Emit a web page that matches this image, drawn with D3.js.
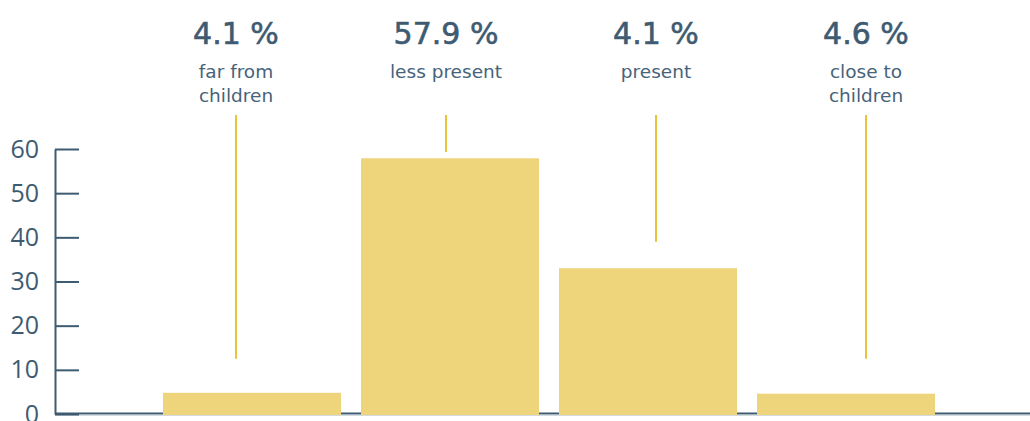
<!DOCTYPE html>
<html lang="en">
<head>
    <meta charset="UTF-8">
    <title>Bars</title>
    <script src="https://d3js.org/d3.v7.min.js"></script>
    <style>
        body { margin: 0; background: #fff; }
    </style>
</head>
<body>
    <script>
        // data
        var categories = ["far from children", "less present", "present", "close to children"];
        var values = [4.8, 57.9, 33, 4.6];
        var percentLabels = ["4.1 %", "57.9 %", "4.1 %", "4.6 %"];
        var labelLines = [["far from", "children"], ["less present"], ["present"], ["close to", "children"]];
        var leaderEnd = [12.5, 59.3, 39, 12.5];
        var yTicks = [0, 10, 20, 30, 40, 50, 60];

        var width = 1030, height = 421;
        var axisColor = "#3e5b71";
        var barColor = "#eed47a";
        var leaderColor = "#e8c43a";

        var svg = d3.select("body").append("svg")
            .attr("width", width)
            .attr("height", height);

        var y = d3.scaleLinear().domain([0, 60]).range([414, 149]);

        var x = d3.scaleBand()
            .domain(categories)
            .range([153, 945])
            .paddingInner(0.101)
            .paddingOuter(0.0505);

        // label columns are spaced a bit wider than the bars
        var xl = d3.scaleBand()
            .domain(categories)
            .range([131, 971]);

        // baseline
        svg.append("line")
            .attr("x1", 55).attr("x2", width)
            .attr("y1", 413.5).attr("y2", 413.5)
            .attr("stroke", axisColor).attr("stroke-width", 2);
        svg.append("line")
            .attr("x1", 55).attr("x2", width)
            .attr("y1", 415).attr("y2", 415)
            .attr("stroke", "#a8b7c2").attr("stroke-width", 1);

        // y axis
        var yAxis = svg.append("g")
            .attr("transform", "translate(55,0)")
            .call(d3.axisLeft(y).tickValues(yTicks).tickSize(-24).tickSizeOuter(0).tickPadding(16));
        yAxis.selectAll("path, line")
            .attr("stroke", axisColor)
            .attr("stroke-width", 2);
        yAxis.selectAll("text")
            .attr("fill", axisColor)
            .attr("font-family", "'Open Sans', sans-serif")
            .attr("font-size", "25px");

        // bars
        svg.selectAll("rect.bar")
            .data(values)
            .enter().append("rect")
            .attr("class", "bar")
            .attr("x", function (d, i) { return x(categories[i]); })
            .attr("y", function (d) { return y(d); })
            .attr("width", x.bandwidth())
            .attr("height", function (d) { return y(0) + 1 - y(d); })
            .attr("fill", barColor);

        // leader lines
        svg.selectAll("line.leader")
            .data(leaderEnd)
            .enter().append("line")
            .attr("class", "leader")
            .attr("x1", function (d, i) { return xl(categories[i]) + xl.bandwidth() / 2; })
            .attr("x2", function (d, i) { return xl(categories[i]) + xl.bandwidth() / 2; })
            .attr("y1", 115)
            .attr("y2", function (d) { return y(d); })
            .attr("stroke", leaderColor)
            .attr("stroke-width", 2);

        // percent labels
        svg.selectAll("text.pct")
            .data(percentLabels)
            .enter().append("text")
            .attr("class", "pct")
            .attr("x", function (d, i) { return xl(categories[i]) + xl.bandwidth() / 2; })
            .attr("y", 44)
            .attr("text-anchor", "middle")
            .attr("font-family", "'DejaVu Sans', sans-serif")
            .attr("font-size", "30px")
            .attr("fill", axisColor)
            .attr("stroke", axisColor)
            .attr("stroke-width", 0.6)
            .text(function (d) { return d; });

        // category labels
        var cat = svg.selectAll("text.cat")
            .data(labelLines)
            .enter().append("text")
            .attr("class", "cat")
            .attr("text-anchor", "middle")
            .attr("font-family", "'DejaVu Sans', sans-serif")
            .attr("font-size", "18.5px")
            .attr("fill", "#46637a");
        cat.selectAll("tspan")
            .data(function (d, i) { return d.map(function (t) { return { t: t, i: i }; }); })
            .enter().append("tspan")
            .attr("x", function (d) { return xl(categories[d.i]) + xl.bandwidth() / 2; })
            .attr("y", function (d, j) { return 78 + j * 23.5; })
            .text(function (d) { return d.t; });
    </script>
</body>
</html>
